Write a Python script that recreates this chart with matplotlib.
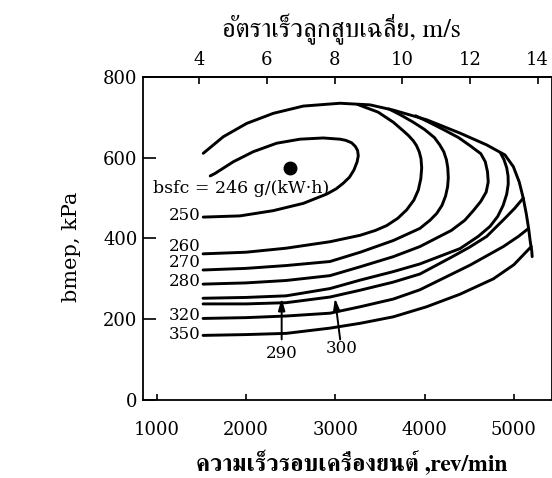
import matplotlib
matplotlib.use('Agg')
import matplotlib.pyplot as plt
from matplotlib import font_manager as fm
from matplotlib.ft2font import FT2Font

# ---------------- data ----------------
rpm_ticks = [1000, 2000, 3000, 4000, 5000]
bmep_ticks = [0, 200, 400, 600, 800]
speed_ticks = [4, 6, 8, 10, 12, 14]

# full-load (upper boundary) line
wot_rpm = [1522, 1746, 2008, 2306, 2642, 3053, 3389, 3650, 4024, 4397, 4694, 4900,
           4994, 5060, 5105, 5140, 5165, 5185, 5200, 5205]
wot_bmep = [611, 652, 685, 710, 728, 735, 731, 718, 694, 661, 632, 607,
            578, 540, 500, 460, 425, 390, 370, 355]

rpm_250 = [1522, 1933, 2306, 2642, 2904, 3010, 3090, 3160, 3210, 3245, 3258, 3250,
           3225, 3184, 3120, 3053, 2866, 2605, 2344, 2082, 1858, 1653, 1600]
bmep_250 = [453, 456, 469, 487, 510, 523, 537, 552, 570, 590, 605, 618,
            628, 637, 643, 646, 649, 646, 636, 615, 590, 561, 555]

rpm_260 = [1520, 2000, 2450, 2941, 3280, 3450, 3576, 3700, 3800, 3880, 3930, 3958,
           3968, 3960, 3940, 3910, 3874, 3820, 3760, 3650, 3480, 3250]
bmep_260 = [362, 366, 376, 392, 408, 420, 432, 450, 471, 495, 520, 548,
            575, 598, 615, 630, 642, 655, 667, 688, 713, 732]

rpm_270 = [1520, 2000, 2450, 2941, 3280, 3650, 3948, 4060, 4136, 4195, 4235, 4258,
           4266, 4260, 4245, 4215, 4170, 4110, 4000, 3874, 3740, 3600]
bmep_270 = [322, 326, 333, 343, 366, 395, 425, 445, 462, 482, 505, 528,
            550, 575, 595, 615, 632, 650, 670, 688, 705, 721]

rpm_280 = [1520, 2000, 2450, 2941, 3280, 3650, 3948, 4300, 4450, 4550, 4630, 4690,
           4713, 4705, 4680, 4630, 4509, 4380, 4210, 4050, 3900]
bmep_280 = [287, 290, 296, 308, 330, 355, 380, 420, 445, 470, 492, 515,
            540, 565, 590, 610, 630, 650, 670, 688, 704]

rpm_290 = [1520, 2000, 2450, 2941, 3280, 3650, 3948, 4397, 4600, 4733, 4820, 4880,
           4920, 4937, 4935, 4920, 4890, 4850]
bmep_290 = [252, 254, 258, 276, 297, 318, 337, 375, 405, 430, 455, 482,
            510, 535, 555, 575, 595, 612]

rpm_300 = [1520, 2000, 2450, 2941, 3280, 3650, 3948, 4312, 4500, 4695, 4900, 5010, 5105]
bmep_300 = [238, 238, 241, 255, 272, 292, 312, 355, 378, 405, 450, 475, 500]

rpm_320 = [1520, 2000, 2450, 2941, 3280, 3650, 3948, 4509, 4882, 5050, 5165]
bmep_320 = [202, 204, 208, 215, 231, 250, 273, 334, 380, 405, 425]

rpm_350 = [1520, 2000, 2450, 2941, 3280, 3650, 4024, 4397, 4770, 5000, 5195]
bmep_350 = [160, 162, 165, 178, 190, 206, 231, 262, 300, 335, 380]

best_rpm, best_bmep = 2494, 575
best_label = 'bsfc = 246 g/(kW\u00b7h)'
left_labels = ['250', '260', '270', '280', '320', '350']
left_label_bmep = [456, 381, 340, 293, 210, 161]
arrow_labels = ['290', '300']

title_top = 'อัตราเร็วลูกสูบเฉลี่ย, m/s'
title_bottom = 'ความเร็วรอบเครื่องยนต์ ,rev/min'
ylabel = 'bmep, kPa'

# ---------------- fonts ----------------
names = {f.name for f in fm.fontManager.ttflist}
thai_fonts = []
if 'FreeSerif' in names:
    thai_fonts.append('FreeSerif')
else:
    for f in fm.fontManager.ttflist:
        try:
            cm = FT2Font(f.fname).get_charmap()
        except Exception:
            continue
        if 0x0E2D in cm and 0x0E27 in cm and 0x0E40 in cm:
            thai_fonts.append(f.name)
            break

plt.rcParams['font.family'] = ['DejaVu Serif']
thai_family = thai_fonts[:1] + ['DejaVu Serif', 'DejaVu Sans']

# ---------------- figure ----------------
fig = plt.figure(figsize=(5.52, 4.78), dpi=100)
ax = fig.add_axes([0.259, 0.1632, 0.741, 0.6757])
ax.set_xlim(847, 5427)
ax.set_ylim(0, 800)

LW = 2.1
curves = [(wot_rpm, wot_bmep), (rpm_250, bmep_250), (rpm_260, bmep_260),
          (rpm_270, bmep_270), (rpm_280, bmep_280), (rpm_290, bmep_290),
          (rpm_300, bmep_300), (rpm_320, bmep_320), (rpm_350, bmep_350)]
for xs, ys in curves:
    ax.plot(xs, ys, color='black', lw=LW, solid_capstyle='round', solid_joinstyle='round')

ax.plot([best_rpm], [best_bmep], 'o', color='black', ms=9)
ax.text(958, 525, best_label, ha='left', va='center', fontsize=12.5)

for lab, yb in zip(left_labels, left_label_bmep):
    ax.text(1490, yb, lab, ha='right', va='center', fontsize=12)

# arrows for 290 / 300
arrow_specs = [((2400, 252), (2400, 150), (2400, 116)),
               ((2997, 252), (3055, 150), (3068, 128))]
for lab, (tip, tail, lpos) in zip(arrow_labels, arrow_specs):
    ax.annotate('', xy=tip, xytext=tail,
                arrowprops=dict(arrowstyle='-|>,head_length=0.7,head_width=0.2',
                                lw=1.4, color='black', shrinkA=0, shrinkB=0))
    ax.text(lpos[0], lpos[1], lab, ha='center', va='center', fontsize=12)

# axes styling
ax.set_xticks(rpm_ticks)
ax.set_yticks(bmep_ticks)
for s in ax.spines.values():
    s.set_linewidth(1.3)
ax.tick_params(axis='x', direction='in', length=4.5, width=1.2, pad=15, labelsize=13)
ax.tick_params(axis='y', direction='in', length=9, width=1.2, pad=4, labelsize=13)

def rpm_to_speed(r):
    return 4 + (r - 1476) * 10.0 / 3790.0

def speed_to_rpm(v):
    return 1476 + (v - 4) * 3790.0 / 10.0

sec = ax.secondary_xaxis('top', functions=(rpm_to_speed, speed_to_rpm))
sec.set_xticks(speed_ticks)
sec.tick_params(direction='in', length=5, width=1.2, pad=5.5, labelsize=13)
sec.spines['top'].set_linewidth(1.3)

fig.text(0.130, 0.483, ylabel, rotation=90, ha='center', va='center', fontsize=15)
fig.text(0.619, 0.940, title_top, ha='center', va='center', fontsize=19,
         family=thai_family)
fig.text(0.638, 0.031, title_bottom, ha='center', va='center', fontsize=17,
         fontweight='bold', family=thai_family)

fig.savefig('out.png', dpi=100, facecolor='white')
